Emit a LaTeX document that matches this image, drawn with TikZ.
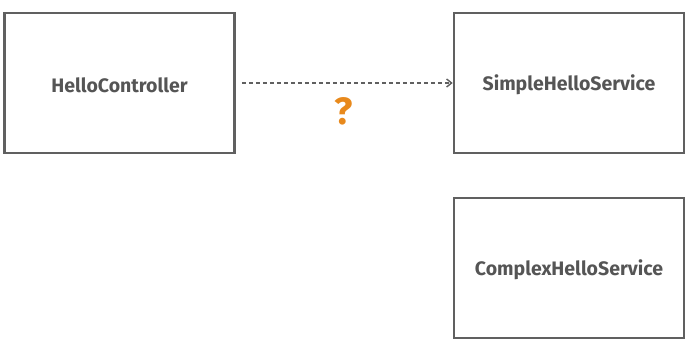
\documentclass[tikz,border=0pt]{standalone}
\usepackage{fontspec}
\setmainfont{Fira Sans}
\usetikzlibrary{arrows.meta}
\definecolor{boxgray}{HTML}{606060}
\definecolor{txtgray}{HTML}{555555}
\definecolor{qorange}{HTML}{E8891C}
\begin{document}
\begin{tikzpicture}[x=1pt,y=-1pt,
  cls/.style={draw=boxgray,line width=2.6pt,minimum width=230pt,minimum height=140pt,inner sep=0pt,
    font=\fontsize{19.5}{22}\selectfont\bfseries,text=txtgray},
  lbl/.style={font=\fontsize{19.5}{22}\selectfont\bfseries,text=txtgray,inner sep=0pt},
  dep/.style={draw=boxgray,line width=1.4pt,dash pattern=on 4pt off 3pt,-{Straight Barb[length=5pt,width=8pt]}}]
\useasboundingbox (0,0) rectangle (698,344);
\node[cls] (hc) at (119.5,83) {};
\node[cls] (shs) at (569,83) {};
\node[cls] (chs) at (569,268) {};
\node[lbl] (hct) at (119.5,85) {HelloController};
\node[lbl] (shst) at (569,85) {SimpleHelloService};
\node[lbl] (chst) at (569,270) {ComplexHelloService};
\draw[dep] ([xshift=6pt]hc.east) -- (shs.west);
\node[text=qorange,font=\fontsize{38}{38}\selectfont\bfseries,inner sep=0pt] (q) at (344,111) {?};
\end{tikzpicture}
\end{document}
